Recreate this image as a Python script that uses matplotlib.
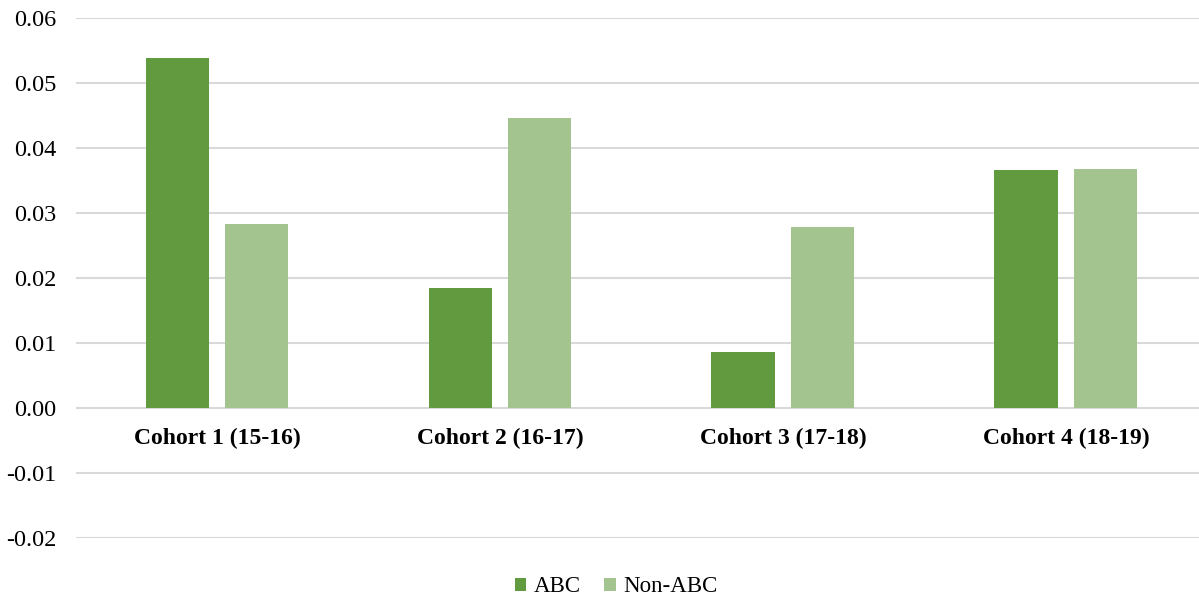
import matplotlib
matplotlib.use("Agg")
import matplotlib.pyplot as plt
import numpy as np

# Data
cohorts = ["Cohort 1 (15-16)", "Cohort 2 (16-17)", "Cohort 3 (17-18)", "Cohort 4 (18-19)"]
abc = [0.0538, 0.0185, 0.0086, 0.0366]
non_abc = [0.0283, 0.0446, 0.0279, 0.0368]
yticks = [-0.02, -0.01, 0.00, 0.01, 0.02, 0.03, 0.04, 0.05, 0.06]

plt.rcParams['font.family'] = ['Liberation Serif', 'DejaVu Serif']

fig = plt.figure(figsize=(11.99, 6), dpi=100)
# plot area runs a bit past the right edge, like the original
ax = fig.add_axes([0.063, 0.1033, 0.944, 0.8667])

x = np.arange(len(cohorts))
w = 0.223
off = 0.141
ax.bar(x - off, abc, w, color='#629A3F', label='ABC', zorder=3)
ax.bar(x + off, non_abc, w, color='#A3C48F', label='Non-ABC', zorder=3)

ax.set_xlim(-0.5, len(cohorts) - 0.5)
ax.set_ylim(-0.02, 0.06)
ax.set_yticks(yticks)
ax.set_yticklabels(["%.2f" % t for t in yticks], fontsize=17.5)
ax.tick_params(axis='y', length=0, pad=14)
ax.set_xticks([])
ax.yaxis.grid(True, color='#D9D9D9', linewidth=1.5, zorder=0)
for s in ax.spines.values():
    s.set_visible(False)

for i, c in enumerate(cohorts):
    ax.annotate(c, (i, 0), xytext=(0, -22), textcoords='offset points',
                ha='center', va='center', fontsize=17, fontweight='bold')

fig.legend(loc='center', bbox_to_anchor=(0.514, 0.022), ncol=2, frameon=False,
           fontsize=16.5, handlelength=0.5, handleheight=0.5, handletextpad=0.35,
           columnspacing=1.0)

plt.savefig('out.png', dpi=100)
